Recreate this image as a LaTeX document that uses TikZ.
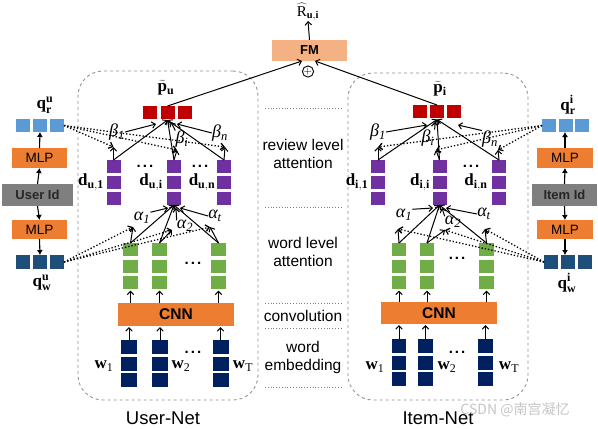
\documentclass[tikz,border=0pt]{standalone}
\usepackage{fontspec}
\setmainfont{Liberation Sans}
\setmathrm{Liberation Serif}
\newfontfamily\tms{Liberation Serif}
\newfontfamily\cjk{Noto Sans CJK SC}
\usetikzlibrary{arrows.meta,calc}
\definecolor{fmc}{HTML}{F4B183}
\definecolor{orc}{HTML}{ED7D31}
\definecolor{gyc}{HTML}{7F7F7F}
\definecolor{lbc}{HTML}{5B9BD5}
\definecolor{dbc}{HTML}{1F4E79}
\definecolor{rdc}{HTML}{C00000}
\definecolor{ppc}{HTML}{7030A0}
\definecolor{gnc}{HTML}{70AD47}
\definecolor{nvc}{HTML}{002060}
\tikzset{
  blk/.style={rectangle,inner sep=0,outer sep=0,draw=none},
  obox/.style={rectangle,inner sep=0,outer sep=0,fill=orc},
  idbox/.style={rectangle,inner sep=0,outer sep=0,fill=gyc,font=\fontsize{13}{15}\selectfont\bfseries,text=black!85},
  netbox/.style={rectangle,draw=gray!85,dashed,line width=0.9pt,rounded corners=25pt,inner sep=0},
  ml/.style={inner sep=0,font=\fontsize{17}{19}\selectfont},
  gk/.style={inner sep=0,font=\tms\itshape\fontsize{18}{20}\selectfont},
  mid/.style={inner sep=0,align=center,font=\fontsize{15.5}{18}\selectfont},
  sep/.style={dotted,gray,line width=0.8pt},
  att/.style={-{Straight Barb[length=3.5pt,width=6.5pt]},line width=1pt},
  dts/.style={dotted,line width=1.3pt,-{Straight Barb[length=3.5pt,width=6.5pt]}},
  sarr/.style={-{Latex[length=5pt,width=6pt]},line width=1.1pt},
  dotsn/.style={inner sep=0,font=\fontsize{15}{17}\selectfont\bfseries}
}
\newcommand\vstk[7]{\foreach \k in {0,1,2}{\node[blk,fill=#7,minimum width=#4,minimum height=#5] (#1-\k) at (#2,{#3+#5/2+\k*#6}) {};}}
\newcommand\hstk[7]{\foreach \k in {0,1,2}{\node[blk,fill=#7,minimum width=#4,minimum height=#5] (#1-\k) at ({#2+\k*#6},#3) {};}}
\begin{document}
\begin{tikzpicture}[x=1pt,y=-1pt]
\path[use as bounding box,fill=white] (0,0) rectangle (598,429);

% net boxes
\node[netbox,minimum width=180,minimum height=329] (unet) at (168,235.5) {};
\node[netbox,minimum width=180,minimum height=327] (inet) at (438,236.5) {};
\node[inner sep=0,font=\fontsize{18.5}{20}\selectfont] (unetl) at (163,418) {User-Net};
\node[inner sep=0,font=\fontsize{18.5}{20}\selectfont] (inetl) at (438,418) {Item-Net};

% middle separators and labels
\foreach \yy in {108,207,303,328,387}{\draw[sep] (265,\yy) -- (342,\yy);}
\node[mid] (rla) at (303,154) {review level\\attention};
\node[mid] (wla) at (303,252) {word level\\attention};
\node[mid] (conv) at (303,315.5) {convolution};
\node[mid] (wemb) at (303,357) {word\\embedding};

% FM
\node[rectangle,inner sep=0,fill=fmc,minimum width=75,minimum height=21,font=\fontsize{13}{15}\selectfont\bfseries] (fm) at (309.5,50.5) {FM};
\node[inner sep=0,font=\fontsize{15}{17}\selectfont] (rhat) at (308,12) {$\widehat{\mathrm{R}}_{\mathbf{u,i}}$};
\draw[att] (fm.north) -- (rhat.south);
\node[circle,draw,line width=0.9pt,inner sep=0,minimum size=11,font=\fontsize{11}{11}\selectfont] (oplus) at (308,71.5) {$+$};
\coordinate (fmL) at (302,61);
\coordinate (fmR) at (315,61);

% ---------------- user side column
\hstk{qru}{23}{125.5}{14}{13}{17}{lbc}
\node[obox,minimum width=55,minimum height=20,font=\fontsize{13.5}{15}\selectfont] (mlpUa) at (39.5,158) {MLP};
\node[idbox,minimum width=71,minimum height=22] (uid) at (37.5,195) {User Id};
\node[obox,minimum width=55,minimum height=19,font=\fontsize{13.5}{15}\selectfont] (mlpUb) at (39.5,229.5) {MLP};
\hstk{qwu}{23}{262}{14}{14}{17}{dbc}
\node[ml] (qrul) at (45,105) {$\mathbf{q}^{\mathbf{u}}_{\mathbf{r}}$};
\node[ml] (qwul) at (42,283) {$\mathbf{q}^{\mathbf{u}}_{\mathbf{w}}$};
\draw[sarr] (mlpUa.north) -- (qru-1.south);
\draw[sarr] (uid.north) -- (mlpUa.south);
\draw[sarr] (uid.south) -- (mlpUb.north);
\draw[sarr] (mlpUb.south) -- (qwu-1.north);

% ---------------- item side column
\hstk{qri}{549}{125.5}{14}{13}{16.5}{lbc}
\node[obox,minimum width=56,minimum height=20,font=\fontsize{13.5}{15}\selectfont] (mlpIa) at (565,158) {MLP};
\node[idbox,minimum width=65,minimum height=22] (iid) at (564.5,195) {Item Id};
\node[obox,minimum width=56,minimum height=19,font=\fontsize{13.5}{15}\selectfont] (mlpIb) at (565,229.5) {MLP};
\hstk{qwi}{551}{262}{14}{14}{17}{dbc}
\node[ml] (qril) at (568,105) {$\mathbf{q}^{\mathbf{i}}_{\mathbf{r}}$};
\node[ml] (qwil) at (567,283) {$\mathbf{q}^{\mathbf{i}}_{\mathbf{w}}$};
\draw[sarr] (mlpIa.north) -- (mlpIa.north |- qri-1.south);
\draw[sarr] (iid.north) -- (mlpIa.south);
\draw[sarr] (iid.south) -- (mlpIb.north);
\draw[sarr] (mlpIb.south) -- (mlpIb.south |- qwi-1.north);

% ---------------- User-Net
\hstk{pu}{150}{112.5}{14}{13}{17.5}{rdc}
\node[ml] (pul) at (166,88) {$\widetilde{\mathbf{p}}_{\mathbf{u}}$};
\vstk{dL1}{113.5}{160}{14}{12.5}{16}{ppc}
\vstk{dL2}{174}{160}{14}{12.5}{16}{ppc}
\vstk{dL3}{224}{160}{14}{12.5}{16}{ppc}
\node[ml] (dL1l) at (91,182) {$\mathbf{d}_{\mathbf{u,1}}$};
\node[ml] (dL2l) at (151,182) {$\mathbf{d}_{\mathbf{u,i}}$};
\node[ml] (dL3l) at (202,182) {$\mathbf{d}_{\mathbf{u,n}}$};
\node[dotsn] (dLa) at (145,166) {.\hspace{2pt}.\hspace{2pt}.};
\node[dotsn] (dLb) at (200,166) {.\hspace{2pt}.\hspace{2pt}.};
\vstk{gL1}{130.5}{243}{15}{13}{16.5}{gnc}
\vstk{gL2}{159.5}{243}{15}{13}{16.5}{gnc}
\vstk{gL3}{218.5}{243}{15}{13}{16.5}{gnc}
\node[dotsn] (gLa) at (193,263) {.\hspace{2pt}.\hspace{2pt}.};
\node[obox,minimum width=116,minimum height=23,font=\fontsize{15.5}{17}\selectfont\bfseries] (cnnL) at (176,314.5) {CNN};
\vstk{wL1}{129}{340}{16}{14}{16.5}{nvc}
\vstk{wL2}{160}{340}{16}{14}{16.5}{nvc}
\vstk{wL3}{220.5}{340}{16}{14}{16.5}{nvc}
\node[dotsn] (wLa) at (193,352) {.\hspace{2pt}.\hspace{2pt}.};
\node[ml] (wL1l) at (104,366) {$\mathbf{w}_{\mathrm{1}}$};
\node[ml] (wL2l) at (181,366) {$\mathbf{w}_{\mathrm{2}}$};
\node[ml] (wL3l) at (243,366) {$\mathbf{w}_{\mathrm{T}}$};
\foreach \c in {1,2,3}{
  \draw[att,shorten >=1.5pt] (cnnL.north -| gL\c-2.south) -- (gL\c-2.south);
  \draw[att,shorten >=1pt] (wL\c-0.north) -- (wL\c-0.north |- cnnL.south);
}
% review level attention (user)
\coordinate (cRu) at (167.5,120);
\coordinate (tL1) at (113.5,147);
\coordinate (tL2) at (177,150);
\coordinate (tL3) at (225,147);
\foreach \c in {1,2,3}{
  \draw[att] (dL\c-0.north) -- (cRu);
  \draw[att] (dL\c-0.north) -- (tL\c);
  \draw[dts] (qru-2.east) -- (tL\c);
}
\node[gk] (bL1) at (117,132) {β\textsubscript{1}};
\node[gk] (bL2) at (182,139) {β\textsubscript{i}};
\node[gk] (bL3) at (220,133) {β\textsubscript{n}};
\coordinate (ebL1) at (156,124);
\coordinate (ebL2) at (171,122);
\coordinate (ebL3) at (177,124);
\draw[att] (bL1.east) -- (ebL1);
\draw[att] (bL2.north west) -- (ebL2);
\draw[att] (bL3.west) -- (ebL3);
% word level attention (user)
\coordinate (cWu) at (174,205);
\coordinate (uL1) at (133,227);
\coordinate (uL2) at (172,230);
\coordinate (uL3) at (210,227);
\foreach \c in {1,2,3}{
  \draw[att] (gL\c-0.north) -- (cWu);
  \draw[att] (gL\c-0.north) -- (uL\c);
  \draw[dts] (qwu-2.east) -- (uL\c);
}
\node[gk] (aL1) at (142,218) {α\textsubscript{1}};
\node[gk] (aL2) at (185,226) {α\textsubscript{2}};
\node[gk] (aL3) at (215,216) {α\textsubscript{t}};
\coordinate (eaL1) at (168,208);
\coordinate (eaL2) at (176,208);
\coordinate (eaL3) at (180,208);
\draw[att] (aL1.north east) -- (eaL1);
\draw[att] (aL2.north west) -- (eaL2);
\draw[att] (aL3.west) -- (eaL3);

% ---------------- Item-Net
\hstk{pi}{420}{111.5}{14}{13}{17}{rdc}
\node[ml] (pil) at (440,89) {$\widetilde{\mathbf{p}}_{\mathbf{i}}$};
\vstk{dR1}{378}{160}{14}{12.5}{16}{ppc}
\vstk{dR2}{439.5}{160}{14}{12.5}{16}{ppc}
\vstk{dR3}{499}{160}{14}{12.5}{16}{ppc}
\node[ml] (dR1l) at (357,182) {$\mathbf{d}_{\mathbf{i,1}}$};
\node[ml] (dR2l) at (420,182) {$\mathbf{d}_{\mathbf{i,i}}$};
\node[ml] (dR3l) at (476,182) {$\mathbf{d}_{\mathbf{i,n}}$};
\node[dotsn] (dRa) at (471,166) {.\hspace{2pt}.\hspace{2pt}.};
\vstk{gR1}{399}{243}{14.5}{13}{16.5}{gnc}
\vstk{gR2}{427}{243}{14.5}{13}{16.5}{gnc}
\vstk{gR3}{486.5}{243}{14.5}{13}{16.5}{gnc}
\node[dotsn] (gRa) at (457,258) {.\hspace{2pt}.\hspace{2pt}.};
\node[obox,minimum width=116,minimum height=22,font=\fontsize{15.5}{17}\selectfont\bfseries] (cnnR) at (439,313) {CNN};
\vstk{wR1}{399}{339}{14.5}{14}{16.5}{nvc}
\vstk{wR2}{425.5}{339}{14.5}{14}{16.5}{nvc}
\vstk{wR3}{485.5}{339}{14.5}{14}{16.5}{nvc}
\node[dotsn] (wRa) at (457,352) {.\hspace{2pt}.\hspace{2pt}.};
\node[ml] (wR1l) at (375,367) {$\mathbf{w}_{\mathrm{1}}$};
\node[ml] (wR2l) at (447,367) {$\mathbf{w}_{\mathrm{2}}$};
\node[ml] (wR3l) at (509,367) {$\mathbf{w}_{\mathrm{T}}$};
\foreach \c in {1,2,3}{
  \draw[att,shorten >=1.5pt] (cnnR.north -| gR\c-2.south) -- (gR\c-2.south);
  \draw[att,shorten >=1pt] (wR\c-0.north) -- (wR\c-0.north |- cnnR.south);
}
% review level attention (item)
\coordinate (cRi) at (437,119.5);
\coordinate (tR1) at (378,147);
\coordinate (tR2) at (436,150);
\coordinate (tR3) at (498,150);
\foreach \c in {1,2,3}{
  \draw[att] (dR\c-0.north) -- (cRi);
  \draw[att] (dR\c-0.north) -- (tR\c);
  \draw[dts] (qri-0.west) -- (tR\c);
}
\node[gk] (bR1) at (378,132) {β\textsubscript{1}};
\node[gk] (bR2) at (428,138) {β\textsubscript{i}};
\node[gk] (bR3) at (490,139) {β\textsubscript{n}};
\coordinate (ebR1) at (427,125);
\coordinate (ebR2) at (435,122);
\coordinate (ebR3) at (458,125);
\draw[att] (bR1.east) -- (ebR1);
\draw[att] (bR2.north east) -- (ebR2);
\draw[att] (bR3.north west) -- (ebR3);
% word level attention (item)
\coordinate (cWi) at (439.5,205);
\coordinate (uR1) at (398,229);
\coordinate (uR2) at (445,230);
\coordinate (uR3) at (485,229);
\foreach \c in {1,2,3}{
  \draw[att] (gR\c-0.north) -- (cWi);
  \draw[att] (gR\c-0.north) -- (uR\c);
  \draw[dts] (qwi-0.west) -- (uR\c);
}
\node[gk] (aR1) at (404,215) {α\textsubscript{1}};
\node[gk] (aR2) at (453,222) {α\textsubscript{2}};
\node[gk] (aR3) at (484,214) {α\textsubscript{t}};
\coordinate (eaR1) at (433,208);
\coordinate (eaR2) at (442,208);
\coordinate (eaR3) at (446,208);
\draw[att] (aR1.north east) -- (eaR1);
\draw[att] (aR2.north west) -- (eaR2);
\draw[att] (aR3.west) -- (eaR3);

% to FM
\draw[line width=1pt,-{Straight Barb[length=3.5pt,width=6.5pt]}] (pu-1.north) -- (fmL);
\draw[line width=1pt,-{Straight Barb[length=3.5pt,width=6.5pt]}] (pi-1.north) -- (fmR);

% watermark
\node[inner sep=0,text=gray!45,font=\cjk\fontsize{14}{16}\selectfont] (wm) at (515,410) {CSDN @南宫凝忆};
\end{tikzpicture}
\end{document}
